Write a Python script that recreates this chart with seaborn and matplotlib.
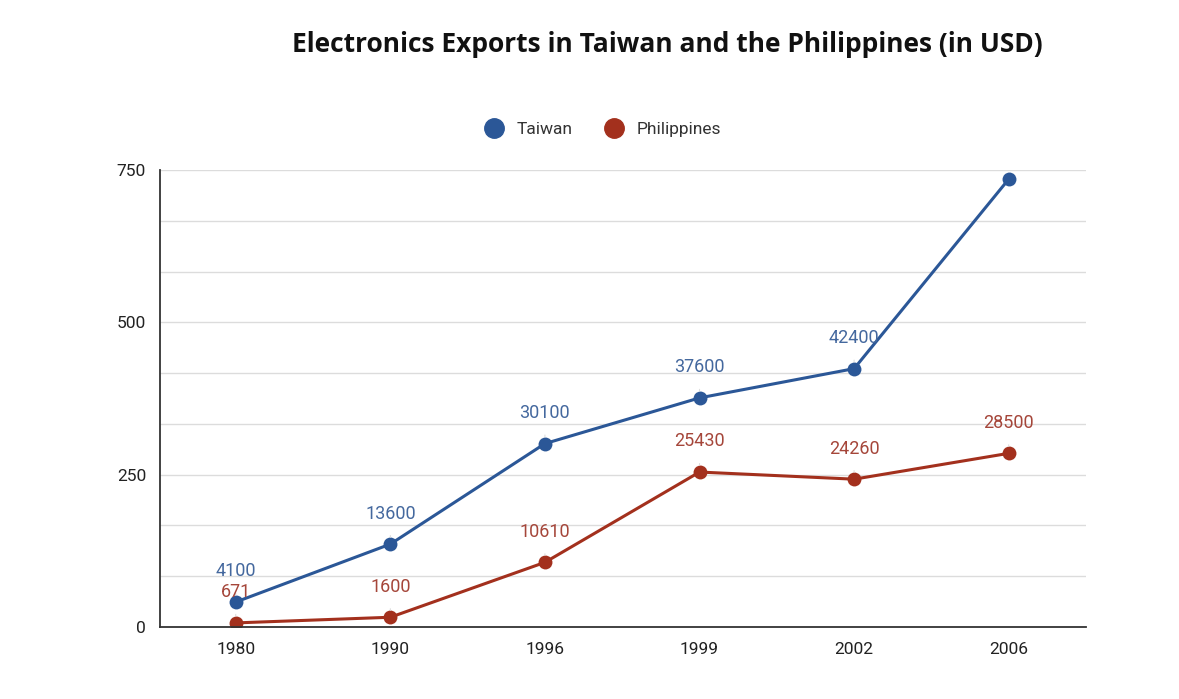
import seaborn as sns
import pandas as pd
import numpy as np
import matplotlib.pyplot as plt

years = ['1980', '1990', '1996', '1999', '2002', '2006']
taiwan = [4100, 13600, 30100, 37600, 42400, 73500]
philippines = [671, 1600, 10610, 25430, 24260, 28500]
# the last Taiwan point has no value label in the chart
taiwan_labels = ['4100', '13600', '30100', '37600', '42400', '']
philippines_labels = ['671', '1600', '10610', '25430', '24260', '28500']

# axis of the original chart runs 0-750 (hundreds)
scale = 100

df = pd.DataFrame({
    'Year': years * 2,
    'Value': [v / scale for v in taiwan + philippines],
    'Country': ['Taiwan'] * len(years) + ['Philippines'] * len(years),
})

sns.set_style('white')
plt.rcParams['font.family'] = ['Roboto', 'DejaVu Sans']

blue = '#2b5797'
red = '#a3301d'
palette = {'Taiwan': blue, 'Philippines': red}

fig = plt.figure(figsize=(11.79, 6.99), dpi=100)
ax = fig.add_axes([160 / 1179, 1 - 627 / 699, (1086 - 160) / 1179, (627 - 170) / 699])

sns.lineplot(data=df, x='Year', y='Value', hue='Country', palette=palette,
             marker='o', markersize=10, markeredgewidth=0, linewidth=2.2,
             sort=False, ax=ax, legend=False)

ax.set_xlim(-0.49, 5.5)
ax.set_ylim(0, 750)
ax.set_yticks([0, 250, 500, 750])
ax.set_yticks(np.arange(0, 751, 250 / 3), minor=True)
ax.grid(True, axis='y', which='both', color='#dcdcdc', linewidth=1)
ax.set_axisbelow(True)
for s in ['top', 'right']:
    ax.spines[s].set_visible(False)
for s in ['left', 'bottom']:
    ax.spines[s].set_color('#333333')
    ax.spines[s].set_linewidth(1.3)
ax.tick_params(axis='x', direction='inout', length=10, width=1.2, color='#333333',
               labelsize=12.5, labelcolor='#222222', pad=6)
ax.tick_params(axis='y', which='both', length=0, labelsize=12.5, labelcolor='#222222', pad=10)
ax.set_xlabel('')
ax.set_ylabel('')

label_colors = {'Taiwan': '#44689e', 'Philippines': '#a5463a'}
for name, vals, labs in [('Taiwan', taiwan, taiwan_labels),
                         ('Philippines', philippines, philippines_labels)]:
    for i, (v, lab) in enumerate(zip(vals, labs)):
        if not lab:
            continue
        ax.annotate(lab, xy=(i, v / scale), xytext=(0, 22), textcoords='offset points',
                    ha='center', va='center', fontsize=13, color=label_colors[name],
                    arrowprops=dict(arrowstyle='-', color='#dddddd', lw=0.8,
                                    shrinkA=7, shrinkB=5))

fig.text(0.566, 1 - 45 / 699, 'Electronics Exports in Taiwan and the Philippines (in USD)',
         ha='center', va='center', fontsize=19, fontweight='bold', color='#111111',
         family=['Open Sans', 'DejaVu Sans'])

handles = [plt.Line2D([], [], marker='o', linestyle='', markersize=14, color=blue),
           plt.Line2D([], [], marker='o', linestyle='', markersize=14, color=red)]
fig.legend(handles, ['Taiwan', 'Philippines'], loc='center', ncol=2, frameon=False,
           bbox_to_anchor=(0.508, 1 - 129 / 699), fontsize=12.5, handletextpad=0.3,
           columnspacing=1.4, labelcolor='#333333')

fig.savefig('out.png', dpi=100, facecolor='white')
